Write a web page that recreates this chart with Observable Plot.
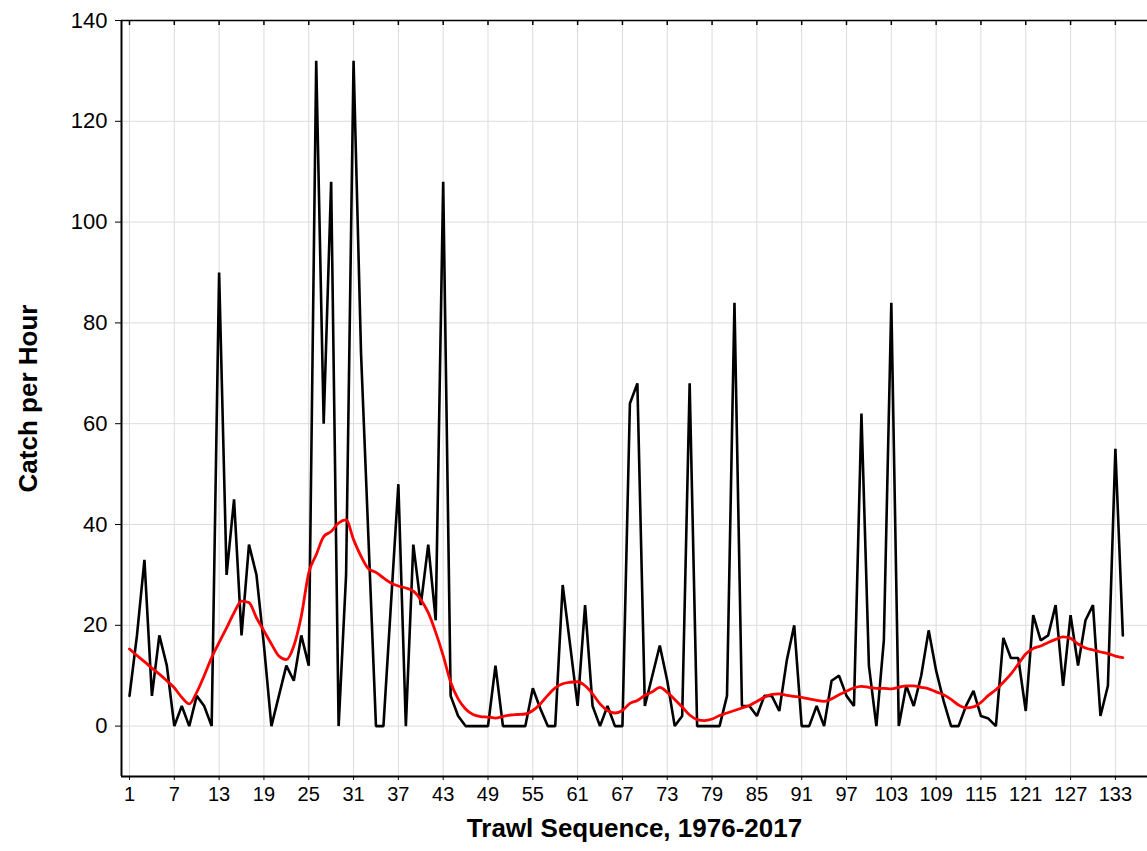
<!DOCTYPE html>
<html>
<head>
<meta charset="utf-8">
<script src="https://cdn.jsdelivr.net/npm/d3@7"></script>
<script src="https://cdn.jsdelivr.net/npm/@observablehq/plot@0.6"></script>
<style>
  html, body { margin: 0; padding: 0; background: #fff; }
  #chart svg { display: block; }
</style>
</head>
<body>
<div id="chart"></div>
<script>
// Catch per hour for each trawl in sequence (1..134)
const catchPerHour = [
  6, 18, 33, 6, 18, 12, 0, 4, 0, 6,
  4, 0, 90, 30, 45, 18, 36, 30, 16, 0,
  6, 12, 9, 18, 12, 132, 60, 108, 0, 30,
  132, 74, 37, 0, 0, 24, 48, 0, 36, 24,
  36, 21, 108, 6, 2, 0, 0, 0, 0, 12,
  0, 0, 0, 0, 7.5, 3.5, 0, 0, 28, 16,
  4, 24, 4, 0, 4, 0, 0, 64, 68, 4,
  10, 16, 9, 0, 2, 68, 0, 0, 0, 0,
  6, 84, 4, 4, 2, 6, 6, 3, 13, 20,
  0, 0, 4, 0, 9, 10, 6, 4, 62, 12,
  0, 17, 84, 0, 8, 4, 10, 19, 11, 5,
  0, 0, 4, 7, 2, 1.5, 0, 17.5, 13.5, 13.5,
  3, 22, 17, 18, 24, 8, 22, 12, 21, 24,
  2, 8, 55, 18
];
// Smoothed trend (red curve), read at each trawl
const smoothed = [
  15.3, 14, 12.8, 11.5, 10.3, 9, 7.6, 5.7, 4.4, 6.7,
  10, 13.6, 16.6, 19.5, 22.5, 24.8, 24.5, 21.5, 18.9, 16.3,
  13.9, 13.2, 15.9, 21.8, 30.4, 34, 37.6, 38.6, 40.3, 40.9,
  37, 33.7, 31.2, 30.5, 29.4, 28.4, 27.8, 27.4, 26.8, 25.1,
  22.5, 18.6, 14, 8.7, 5.4, 3.4, 2.3, 1.9, 1.8, 1.6,
  1.9, 2.2, 2.3, 2.4, 3.1, 4.4, 6.1, 7.6, 8.4, 8.7,
  8.8, 8, 6.4, 4.4, 3.1, 2.6, 3.1, 4.5, 5.1, 6.1,
  6.8, 7.7, 6.7, 5.3, 3.8, 2.2, 1.3, 1.1, 1.4, 2.1,
  2.6, 3.1, 3.6, 4.1, 4.9, 5.7, 6.3, 6.4, 6.1, 5.9,
  5.7, 5.4, 5.1, 4.9, 5.4, 6.2, 6.9, 7.6, 7.9, 7.7,
  7.5, 7.5, 7.4, 7.7, 8, 8, 7.7, 7.4, 6.8, 6.2,
  5.3, 4.2, 3.6, 3.8, 4.7, 6.1, 7.2, 8.7, 10.3, 12.3,
  14.3, 15.4, 15.9, 16.6, 17.2, 17.7, 17.4, 16.3, 15.5, 15.1,
  14.7, 14.4, 13.9, 13.6
];
const xTicks = [1, 7, 13, 19, 25, 31, 37, 43, 49, 55, 61, 67, 73, 79, 85, 91, 97, 103, 109, 115, 121, 127, 133];
const yTicks = [0, 20, 40, 60, 80, 100, 120, 140];
const xTitle = "Trawl Sequence, 1976-2017";
const yTitle = "Catch per Hour";

const data = catchPerHour.map((v, i) => ({seq: i + 1, cph: v, trend: smoothed[i]}));

const xDomain = [-0.07, 137.3];
const yDomain = [-10, 140];
const font = "'Liberation Sans', Arial, sans-serif";

const chart = Plot.plot({
  width: 1147,
  height: 851,
  marginLeft: 121,
  marginRight: 0,
  marginTop: 20,
  marginBottom: 75,
  style: {fontFamily: font, background: "#fff", color: "#000", overflow: "visible"},
  x: {domain: xDomain},
  y: {domain: yDomain},
  marks: [
    Plot.gridX(xTicks, {stroke: "#dcdcdc", strokeOpacity: 1, strokeWidth: 1}),
    Plot.gridY(yTicks, {stroke: "#dcdcdc", strokeOpacity: 1, strokeWidth: 1}),
    Plot.ruleX([xDomain[0]], {stroke: "#000", strokeWidth: 2}),
    Plot.ruleY([yDomain[0]], {stroke: "#000", strokeWidth: 2}),
    Plot.ruleY([yDomain[1]], {stroke: "#000", strokeWidth: 1.5}),
    Plot.ruleX(xTicks, {x: d => d, y1: 140, y2: 139, stroke: "#000", strokeWidth: 1.5}),
    Plot.axisX(xTicks, {anchor: "bottom", tickSize: 4, tickPadding: 6, fontSize: 20, label: null, tickFormat: d => String(d)}),
    Plot.axisY(yTicks, {anchor: "left", tickSize: 6, tickPadding: 8, fontSize: 22, label: null, tickFormat: d => String(d)}),
    Plot.line(data, {x: "seq", y: "cph", stroke: "#000", strokeWidth: 2.6, strokeLinejoin: "miter"}),
    Plot.line(data, {x: "seq", y: "trend", stroke: "#ff0000", strokeWidth: 2.8, curve: "monotone-x"}),
    Plot.text([yTitle], {frameAnchor: "left", dx: -93, rotate: -90, fontSize: 26, fontWeight: "bold", fill: "#000", textAnchor: "middle"}),
    Plot.text([xTitle], {frameAnchor: "bottom", dy: 60, fontSize: 26, fontWeight: "bold", fill: "#000", textAnchor: "middle"})
  ]
});
document.getElementById("chart").appendChild(chart);
</script>
</body>
</html>
